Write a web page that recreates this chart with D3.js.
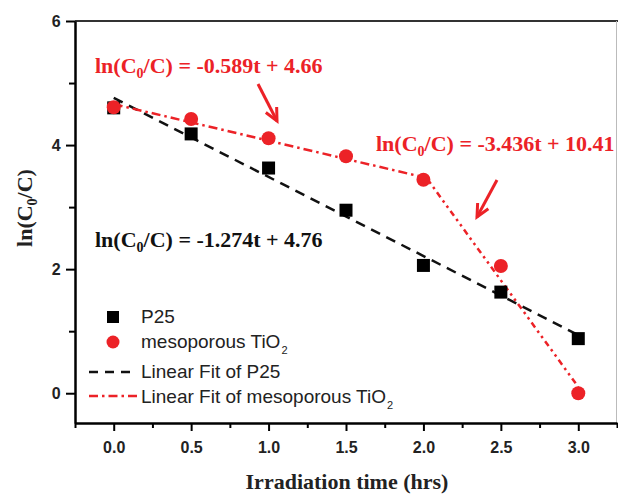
<!DOCTYPE html>
<html><head><meta charset="utf-8">
<script src="https://cdn.jsdelivr.net/npm/d3@7"></script>
<style>body{margin:0;background:#fff}svg{display:block}</style>
</head><body>
<script>
const times = [0, 0.5, 1.0, 1.5, 2.0, 2.5, 3.0];
const p25 = [4.60, 4.18, 3.63, 2.95, 2.06, 1.63, 0.88];
const meso = [4.61, 4.42, 4.11, 3.82, 3.44, 2.05, 0.0];
// linear fits: [slope, intercept, tStart, tEnd]
const fitP25 = [-1.274, 4.76, 0, 3];
const fitMeso1 = [-0.589, 4.66, 0, 2];
const fitMeso2 = [-3.436, 10.41, 2, 3];
const xTicks = [0, 0.5, 1.0, 1.5, 2.0, 2.5, 3.0];
const yTicks = [0, 2, 4, 6];
const RED = "#ec2227";

const W = 618, H = 494;
const svg = d3.select("body").append("svg").attr("width", W).attr("height", H);
const x = d3.scaleLinear().domain([-0.25, 3.25]).range([75, 617]);
const y = d3.scaleLinear().domain([-0.48, 6]).range([423, 21]);

// frame top/right
svg.append("line").attr("x1", 75).attr("x2", 618).attr("y1", 21).attr("y2", 21).attr("stroke", "#333").attr("stroke-width", 2);
svg.append("line").attr("x1", 616.5).attr("x2", 616.5).attr("y1", 21).attr("y2", 423).attr("stroke", "#bbb").attr("stroke-width", 1);

// axes
const xAxis = d3.axisBottom(x).tickValues(xTicks).tickFormat(d3.format(".1f")).tickSize(8).tickSizeOuter(0);
const xMinor = d3.axisBottom(x).tickValues(d3.range(-0.25, 3.26, 0.25).filter(v => Math.abs(v*2 - Math.round(v*2)) > 0.01)).tickFormat("").tickSize(5).tickSizeOuter(0);
const gx = svg.append("g").attr("transform", "translate(0,423)").call(xAxis);
svg.append("g").attr("transform", "translate(0,423)").call(xMinor).select(".domain").remove();
gx.select(".domain").attr("stroke-width", 2.5);
gx.selectAll(".tick text").attr("font-family", "Liberation Sans, Arial, sans-serif").attr("font-weight", "bold").attr("font-size", 16).attr("dy", "1.2em").attr("fill", "#222");
svg.selectAll("g").selectAll(".tick line").attr("stroke-width", 2);

const yAxis = d3.axisLeft(y).tickValues(yTicks).tickFormat(d3.format("d")).tickSize(9).tickSizeOuter(0);
const yMinor = d3.axisLeft(y).tickValues([1, 3, 5]).tickFormat("").tickSize(6).tickSizeOuter(0);
const gy = svg.append("g").attr("transform", "translate(75,0)").call(yAxis);
const gym = svg.append("g").attr("transform", "translate(75,0)").call(yMinor);
gym.select(".domain").remove();
gym.selectAll(".tick line").attr("stroke-width", 2);
gy.select(".domain").attr("stroke-width", 2.5);
gy.selectAll(".tick line").attr("stroke-width", 2);
gy.selectAll(".tick text").attr("font-family", "Liberation Sans, Arial, sans-serif").attr("font-weight", "bold").attr("font-size", 16).attr("dx", "-0.15em").attr("fill", "#222");

// fit lines
function fitLine(f, color, dash, w) {
  svg.append("line")
    .attr("x1", x(f[2])).attr("y1", y(f[0]*f[2] + f[1]))
    .attr("x2", x(f[3])).attr("y2", y(f[0]*f[3] + f[1]))
    .attr("stroke", color).attr("stroke-width", w).attr("stroke-dasharray", dash);
}
fitLine(fitP25, "#111", "10,7", 2.5);
fitLine(fitMeso1, RED, "9,4,2.5,4", 2.5);
fitLine(fitMeso2, RED, "6,4,2.5,4,2.5,4", 2.5);

// markers
svg.selectAll(".sq").data(times).enter().append("rect")
  .attr("x", (d) => x(d) - 6.5).attr("y", (d, i) => y(p25[i]) - 6.5)
  .attr("width", 13).attr("height", 13).attr("fill", "#000");
svg.selectAll(".ci").data(times).enter().append("circle")
  .attr("cx", d => x(d)).attr("cy", (d, i) => y(meso[i])).attr("r", 7).attr("fill", RED);

// equation annotations
function eq(tx, ty, color, rest) {
  const t = svg.append("text").attr("x", tx).attr("y", ty)
    .attr("font-family", "Liberation Serif, Times New Roman, serif").attr("font-weight", "bold")
    .attr("font-size", 22).attr("fill", color);
  t.append("tspan").text("ln(C");
  t.append("tspan").text("0").attr("font-size", 14).attr("dy", 5);
  t.append("tspan").text("/C) = " + rest).attr("dy", -5);
}
eq(95, 73, RED, "-0.589t + 4.66");
eq(376, 151, RED, "-3.436t + 10.41");
eq(95, 247, "#111", "-1.274t + 4.76");

// arrows
function arrow(x1, y1, x2, y2) {
  svg.append("line").attr("x1", x1).attr("y1", y1).attr("x2", x2).attr("y2", y2)
    .attr("stroke", RED).attr("stroke-width", 3);
  const a = Math.atan2(y2 - y1, x2 - x1), L = 14, s = 0.45;
  const p = [[x2 - L*Math.cos(a - s), y2 - L*Math.sin(a - s)], [x2, y2], [x2 - L*Math.cos(a + s), y2 - L*Math.sin(a + s)]];
  svg.append("path").attr("d", d3.line()(p)).attr("fill", "none").attr("stroke", RED).attr("stroke-width", 3).attr("stroke-linejoin", "miter");
}
arrow(258, 84, 277, 121);
arrow(497, 180, 477, 217);

// legend
const lf = "Liberation Sans, Arial, sans-serif";
svg.append("rect").attr("x", 107).attr("y", 311).attr("width", 12).attr("height", 12).attr("fill", "#000");
svg.append("circle").attr("cx", 113).attr("cy", 342).attr("r", 6.5).attr("fill", RED);
svg.append("line").attr("x1", 89).attr("x2", 137).attr("y1", 372).attr("y2", 372).attr("stroke", "#111").attr("stroke-width", 2.5).attr("stroke-dasharray", "9,7");
svg.append("line").attr("x1", 89).attr("x2", 137).attr("y1", 396).attr("y2", 396).attr("stroke", RED).attr("stroke-width", 2.5).attr("stroke-dasharray", "9,4,2.5,4");
function lt(ty, s, sub) {
  const t = svg.append("text").attr("x", 141).attr("y", ty).attr("font-family", lf).attr("font-size", 19).attr("fill", "#222");
  t.append("tspan").text(s);
  if (sub) t.append("tspan").text(sub).attr("font-size", 11).attr("dy", 6).attr("dx", 1);
}
lt(323, "P25");
lt(348, "mesoporous TiO", "2");
lt(378, "Linear Fit of P25");
lt(403, "Linear Fit of mesoporous TiO", "2");

// axis titles
svg.append("text").attr("x", 347).attr("y", 489).attr("text-anchor", "middle")
  .attr("font-family", "Liberation Serif, Times New Roman, serif").attr("font-weight", "bold").attr("font-size", 22).attr("fill", "#222")
  .text("Irradiation time (hrs)");
const yl = svg.append("text").attr("transform", "translate(32,208) rotate(-90)").attr("text-anchor", "middle")
  .attr("font-family", "Liberation Serif, Times New Roman, serif").attr("font-weight", "bold").attr("font-size", 22).attr("fill", "#222");
yl.append("tspan").text("ln(C");
yl.append("tspan").text("0").attr("font-size", 14).attr("dy", 5);
yl.append("tspan").text("/C)").attr("dy", -5);
</script>
</body></html>
